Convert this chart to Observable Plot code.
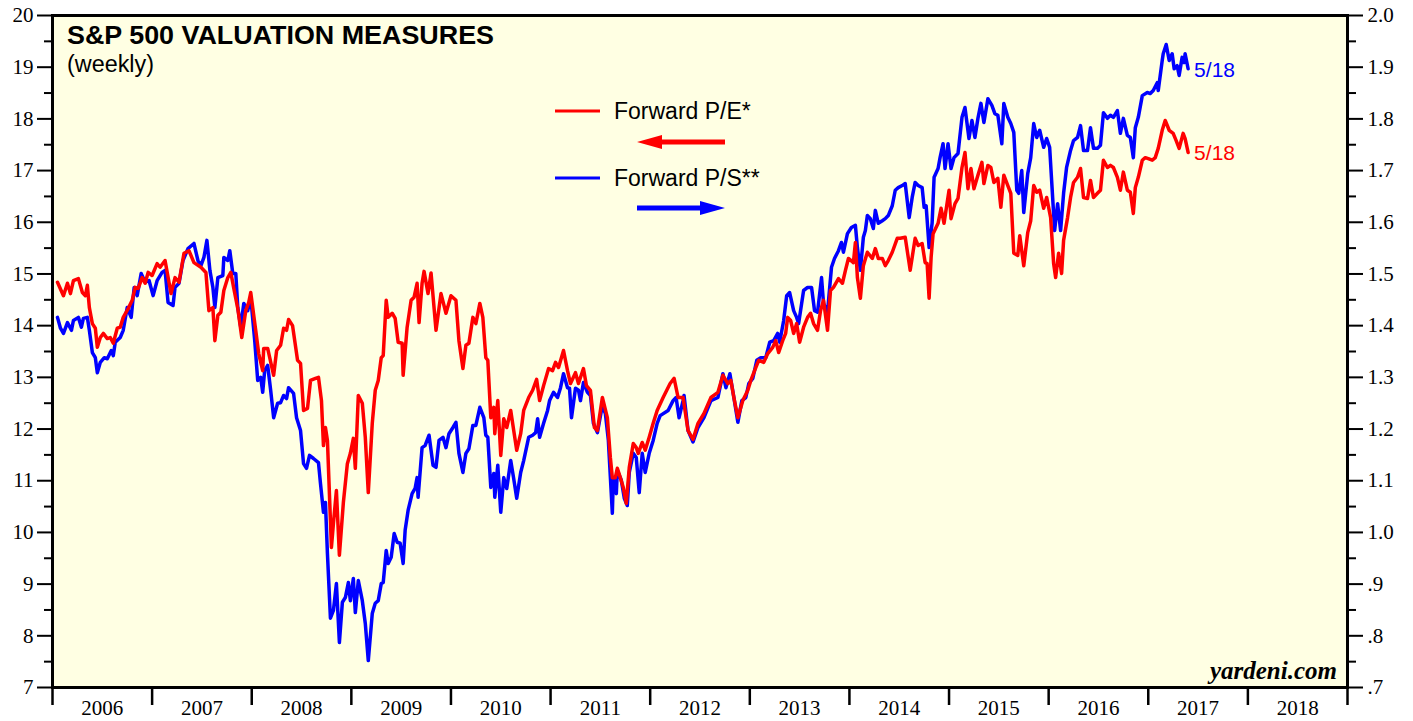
<!DOCTYPE html>
<html>
<head>
<meta charset="utf-8">
<script src="https://cdn.jsdelivr.net/npm/d3@7"></script>
<script src="https://cdn.jsdelivr.net/npm/@observablehq/plot@0.6"></script>
<style>
  html, body { margin: 0; padding: 0; background: #ffffff; }
  #chart svg { display: block; }
</style>
</head>
<body>
<div id="chart"></div>
<script>
// ---- DATA ----
// Forward P/E (left axis), weekly samples, decimal years
const peYears = [
  2006.05,2006.11,2006.15,2006.18,2006.21,2006.26,2006.30,2006.33,2006.35,2006.37,2006.40,2006.43,2006.45,2006.48,2006.51,2006.55,2006.58,2006.61,2006.65,2006.68,2006.71,2006.76,2006.80,2006.83,2006.86,2006.90,2006.93,2006.96,
  2007.00,2007.05,2007.08,2007.13,2007.19,2007.23,2007.27,2007.32,2007.37,2007.42,2007.49,2007.54,2007.57,2007.61,2007.63,2007.66,2007.69,2007.72,2007.76,2007.79,2007.82,2007.86,2007.90,2007.94,2007.97,2007.99,
  2008.04,2008.07,2008.11,2008.12,2008.16,2008.22,2008.25,2008.29,2008.32,2008.35,2008.37,2008.41,2008.46,2008.49,2008.52,2008.56,2008.59,2008.64,2008.67,2008.70,2008.72,2008.74,2008.76,2008.80,2008.82,2008.85,2008.88,2008.92,2008.96,2008.99,
  2009.02,2009.04,2009.07,2009.11,2009.14,2009.17,2009.21,2009.24,2009.27,2009.30,2009.32,2009.35,2009.37,2009.41,2009.44,2009.47,2009.51,2009.52,2009.56,2009.60,2009.63,2009.66,2009.68,2009.71,2009.73,2009.77,2009.80,2009.85,2009.90,2009.95,
  2010.00,2010.05,2010.08,2010.12,2010.15,2010.18,2010.22,2010.25,2010.29,2010.32,2010.35,2010.37,2010.40,2010.43,2010.44,2010.47,2010.50,2010.53,2010.56,2010.60,2010.63,2010.66,2010.70,2010.73,2010.78,2010.82,2010.86,2010.89,2010.93,2010.98,
  2011.02,2011.05,2011.08,2011.13,2011.17,2011.20,2011.25,2011.28,2011.33,2011.36,2011.40,2011.44,2011.47,2011.52,2011.57,2011.60,2011.62,2011.65,2011.67,2011.70,2011.73,2011.76,2011.79,2011.83,2011.86,2011.88,2011.92,2011.95,2011.99,
  2012.03,2012.07,2012.13,2012.20,2012.24,2012.28,2012.33,2012.38,2012.43,2012.48,2012.54,2012.61,2012.68,2012.73,2012.78,2012.81,2012.84,2012.88,2012.93,2012.98,
  2013.01,2013.06,2013.09,2013.14,2013.18,2013.23,2013.26,2013.29,2013.33,2013.36,2013.38,2013.41,2013.44,2013.47,2013.50,2013.54,2013.58,2013.61,2013.64,2013.68,2013.71,2013.74,2013.78,2013.81,2013.84,2013.89,2013.93,2013.96,2013.99,
  2014.04,2014.06,2014.08,2014.11,2014.14,2014.18,2014.23,2014.26,2014.29,2014.33,2014.36,2014.39,2014.43,2014.48,2014.51,2014.56,2014.61,2014.63,2014.66,2014.69,2014.73,2014.76,2014.78,2014.80,2014.82,2014.84,2014.89,2014.92,2014.95,
  2015.00,2015.02,2015.06,2015.09,2015.13,2015.16,2015.19,2015.22,2015.25,2015.29,2015.33,2015.35,2015.39,2015.42,2015.45,2015.49,2015.52,2015.55,2015.59,2015.62,2015.65,2015.69,2015.71,2015.75,2015.79,2015.82,2015.85,2015.88,2015.91,2015.95,2015.98,
  2016.02,2016.05,2016.07,2016.10,2016.13,2016.15,2016.19,2016.22,2016.25,2016.29,2016.32,2016.35,2016.39,2016.42,2016.45,2016.49,2016.52,2016.55,2016.59,2016.62,2016.65,2016.69,2016.72,2016.75,2016.79,2016.82,2016.85,2016.87,2016.90,2016.94,2016.97,
  2017.00,2017.04,2017.07,2017.10,2017.14,2017.17,2017.21,2017.25,2017.28,2017.31,2017.35,2017.37,2017.40
];
const peValues = [
  14.84,14.58,14.82,14.62,14.87,14.91,14.64,14.58,14.78,14.35,14.04,13.95,13.58,13.77,13.85,13.75,13.77,13.66,13.95,13.97,14.16,14.33,14.49,14.74,14.72,14.93,14.82,15.03,
  14.97,15.20,15.13,15.26,14.62,14.93,14.84,15.40,15.45,15.22,15.13,15.03,14.29,14.35,13.71,14.20,14.26,14.68,14.93,15.03,14.72,14.33,13.77,14.29,14.45,14.64,
  13.91,13.46,13.13,13.56,13.56,13.04,13.52,13.62,13.95,13.91,14.12,14.00,13.33,13.27,12.36,12.40,12.94,12.98,13.00,12.55,11.68,12.03,11.78,9.71,10.17,10.81,9.56,10.58,11.33,11.53,
  11.82,11.24,12.65,12.50,11.84,10.77,12.11,12.75,12.94,13.38,13.42,14.49,14.16,14.24,14.14,13.68,13.66,13.04,13.97,14.49,14.55,14.82,14.06,14.82,15.05,14.62,15.02,13.91,14.62,14.24,
  14.58,14.49,13.71,13.17,13.62,13.66,14.16,14.04,14.43,14.16,13.38,13.33,12.22,12.42,11.91,12.55,11.49,12.20,12.03,12.36,11.97,11.59,11.91,12.36,12.61,12.75,12.96,12.55,12.84,13.17,
  13.13,13.29,13.19,13.52,13.13,12.88,13.09,12.88,13.17,12.84,12.75,12.03,11.97,12.61,12.22,11.45,11.06,11.06,11.24,11.06,10.87,10.56,11.26,11.72,11.64,11.53,11.74,11.59,11.84,
  12.11,12.36,12.61,12.88,12.98,12.61,12.61,11.97,11.80,12.11,12.30,12.61,12.71,13.04,12.88,12.94,12.61,12.22,12.55,12.75,
  12.94,13.19,13.33,13.29,13.46,13.58,13.71,13.48,13.71,13.85,14.16,14.10,13.85,14.04,13.68,13.97,14.16,14.24,14.04,13.91,14.29,14.49,13.91,14.68,14.74,14.91,14.82,15.07,15.30,
  15.22,15.61,14.93,14.53,15.16,15.42,15.30,15.49,15.30,15.30,15.16,15.26,15.42,15.69,15.69,15.71,15.07,15.32,15.69,15.55,15.59,15.22,15.20,14.53,15.32,15.78,15.98,16.27,15.98,
  16.62,16.07,16.36,16.46,17.06,17.35,16.65,17.04,16.65,16.91,17.16,16.75,17.10,17.06,16.77,16.85,16.29,16.91,16.71,16.56,15.40,15.36,15.74,15.16,15.80,16.03,16.71,16.58,16.62,16.27,16.48,
  16.09,15.20,14.93,15.40,15.01,15.65,16.09,16.48,16.77,16.87,17.04,16.48,16.46,16.81,16.48,16.56,16.62,17.20,17.06,17.10,17.06,16.87,16.62,16.97,16.62,16.58,16.17,16.67,16.87,17.20,17.25,
  17.23,17.20,17.25,17.43,17.78,17.97,17.78,17.72,17.58,17.43,17.72,17.62,17.35
];

// Forward P/S (right axis), weekly samples, decimal years
const psYears = [
  2006.05,2006.08,2006.11,2006.15,2006.19,2006.21,2006.26,2006.29,2006.31,2006.35,2006.37,2006.40,2006.43,2006.45,2006.48,2006.52,2006.55,2006.59,2006.61,2006.63,2006.68,2006.71,2006.75,2006.79,2006.82,2006.85,2006.89,2006.93,2006.97,
  2007.01,2007.05,2007.10,2007.13,2007.16,2007.21,2007.23,2007.27,2007.31,2007.36,2007.42,2007.46,2007.49,2007.52,2007.55,2007.58,2007.61,2007.63,2007.66,2007.71,2007.72,2007.76,2007.78,2007.81,2007.84,2007.86,2007.89,2007.92,2007.96,2007.99,
  2008.03,2008.06,2008.09,2008.11,2008.13,2008.16,2008.19,2008.22,2008.26,2008.29,2008.32,2008.35,2008.37,2008.42,2008.45,2008.49,2008.52,2008.55,2008.58,2008.62,2008.67,2008.69,2008.72,2008.74,2008.76,2008.79,2008.82,2008.85,2008.88,2008.91,2008.94,2008.97,2008.99,
  2009.02,2009.04,2009.07,2009.11,2009.14,2009.17,2009.21,2009.24,2009.27,2009.30,2009.32,2009.35,2009.37,2009.40,2009.43,2009.46,2009.49,2009.52,2009.54,2009.57,2009.61,2009.64,2009.66,2009.67,2009.71,2009.74,2009.78,2009.82,2009.85,2009.88,2009.92,2009.95,2009.98,
  2010.02,2010.05,2010.08,2010.12,2010.15,2010.18,2010.22,2010.25,2010.29,2010.33,2010.35,2010.37,2010.40,2010.43,2010.44,2010.47,2010.50,2010.53,2010.56,2010.60,2010.63,2010.66,2010.70,2010.73,2010.78,2010.82,2010.85,2010.87,2010.89,2010.93,2010.97,2010.99,
  2011.03,2011.07,2011.10,2011.13,2011.17,2011.19,2011.21,2011.25,2011.28,2011.30,2011.33,2011.37,2011.40,2011.43,2011.47,2011.52,2011.55,2011.58,2011.62,2011.63,2011.66,2011.67,2011.71,2011.74,2011.77,2011.79,2011.83,2011.86,2011.89,2011.92,2011.95,2011.99,
  2012.03,2012.07,2012.10,2012.18,2012.23,2012.26,2012.29,2012.33,2012.34,2012.38,2012.43,2012.48,2012.54,2012.61,2012.68,2012.73,2012.76,2012.80,2012.84,2012.88,2012.92,2012.96,2012.99,
  2013.03,2013.07,2013.11,2013.16,2013.20,2013.24,2013.28,2013.30,2013.34,2013.37,2013.40,2013.44,2013.47,2013.49,2013.54,2013.58,2013.62,2013.65,2013.68,2013.72,2013.74,2013.78,2013.82,2013.85,2013.89,2013.92,2013.94,2013.98,
  2014.02,2014.06,2014.08,2014.11,2014.14,2014.16,2014.18,2014.21,2014.24,2014.26,2014.29,2014.33,2014.36,2014.39,2014.43,2014.46,2014.49,2014.53,2014.56,2014.60,2014.63,2014.66,2014.69,2014.73,2014.75,2014.77,2014.80,2014.83,2014.85,2014.89,2014.91,2014.94,2014.96,2014.99,
  2015.02,2015.05,2015.09,2015.13,2015.16,2015.20,2015.23,2015.26,2015.29,2015.32,2015.35,2015.39,2015.43,2015.46,2015.49,2015.53,2015.55,2015.59,2015.62,2015.65,2015.68,2015.70,2015.73,2015.75,2015.79,2015.82,2015.85,2015.88,2015.91,2015.95,2015.98,
  2016.01,2016.04,2016.06,2016.09,2016.12,2016.15,2016.18,2016.22,2016.25,2016.29,2016.32,2016.35,2016.39,2016.42,2016.45,2016.49,2016.52,2016.55,2016.59,2016.62,2016.65,2016.69,2016.72,2016.75,2016.79,2016.82,2016.85,2016.87,2016.90,2016.94,2016.99,
  2017.02,2017.05,2017.09,2017.10,2017.14,2017.15,2017.18,2017.21,2017.24,2017.26,2017.29,2017.31,2017.34,2017.36,2017.37,2017.40
];
const psValues = [
  1.416,1.395,1.385,1.406,1.391,1.410,1.416,1.397,1.414,1.416,1.391,1.348,1.338,1.309,1.329,1.338,1.336,1.352,1.342,1.368,1.377,1.391,1.435,1.416,1.474,1.458,1.501,1.484,1.487,
  1.458,1.487,1.503,1.507,1.445,1.439,1.474,1.482,1.526,1.549,1.559,1.526,1.516,1.532,1.565,1.507,1.474,1.435,1.493,1.497,1.532,1.526,1.545,1.501,1.501,1.435,1.397,1.443,1.429,1.455,
  1.371,1.294,1.300,1.271,1.313,1.323,1.275,1.222,1.250,1.251,1.265,1.259,1.280,1.269,1.222,1.197,1.133,1.124,1.149,1.143,1.135,1.095,1.039,1.058,0.959,0.834,0.849,0.901,0.787,0.865,0.874,0.903,0.868,
  0.911,0.845,0.907,0.868,0.824,0.752,0.843,0.863,0.868,0.901,0.903,0.965,0.940,0.952,0.998,0.981,0.979,0.940,1.004,1.043,1.075,1.085,1.106,1.068,1.164,1.168,1.188,1.130,1.126,1.178,1.184,1.164,1.191,
  1.203,1.213,1.153,1.116,1.153,1.162,1.207,1.207,1.242,1.222,1.188,1.184,1.087,1.114,1.068,1.130,1.039,1.106,1.085,1.139,1.104,1.066,1.116,1.139,1.184,1.188,1.193,1.220,1.184,1.211,1.236,1.255,
  1.271,1.261,1.280,1.307,1.280,1.279,1.222,1.279,1.275,1.255,1.290,1.271,1.265,1.211,1.193,1.246,1.230,1.178,1.037,1.106,1.075,1.120,1.101,1.066,1.052,1.116,1.153,1.145,1.077,1.153,1.116,1.153,
  1.178,1.211,1.226,1.236,1.255,1.261,1.222,1.255,1.265,1.197,1.175,1.203,1.222,1.255,1.261,1.307,1.280,1.307,1.261,1.213,1.255,1.261,1.288,
  1.298,1.333,1.338,1.338,1.368,1.371,1.385,1.368,1.410,1.458,1.464,1.429,1.416,1.404,1.468,1.474,1.474,1.429,1.426,1.493,1.443,1.426,1.513,1.530,1.545,1.561,1.542,1.578,
  1.590,1.594,1.551,1.507,1.571,1.584,1.613,1.607,1.588,1.623,1.598,1.603,1.607,1.613,1.632,1.662,1.667,1.671,1.675,1.609,1.648,1.677,1.671,1.667,1.629,1.632,1.551,1.598,1.687,1.704,1.725,1.752,1.704,1.752,
  1.704,1.725,1.733,1.803,1.822,1.762,1.797,1.764,1.801,1.830,1.793,1.839,1.826,1.810,1.807,1.752,1.830,1.803,1.791,1.774,1.662,1.656,1.700,1.619,1.694,1.725,1.791,1.764,1.778,1.745,1.762,
  1.745,1.648,1.584,1.636,1.584,1.656,1.706,1.739,1.758,1.764,1.787,1.739,1.739,1.783,1.743,1.743,1.749,1.812,1.801,1.807,1.803,1.816,1.772,1.801,1.768,1.764,1.725,1.783,1.803,1.845,1.851,
  1.849,1.855,1.870,1.855,1.913,1.926,1.944,1.913,1.926,1.897,1.903,1.884,1.919,1.909,1.926,1.897
];

const leftTicks = d3.range(7, 21);            // 7 .. 20
const leftMinor = d3.range(7.5, 20, 1);       // half steps
const yearTicks = d3.range(2006, 2020);       // year boundaries
const yearLabels = d3.range(2006, 2019);      // 2006 .. 2018
const lastLabel = "5/18";
const titleText = "S&P 500 VALUATION MEASURES";
const subtitleText = "(weekly)";
const seriesNames = ["Forward P/E*", "Forward P/S**"];
const sourceText = "yardeni.com";

// ---- build ----
const pe = peYears.map((y, i) => ({year: y, value: peValues[i]}));
const ps = psYears.map((y, i) => ({year: y, value: psValues[i] * 10})); // right axis = left / 10

const RED = "#ff0000", BLUE = "#0000ff", BG = "#ffffe3";
const serif = "'Liberation Serif', 'Times New Roman', serif";
const sans = "'Liberation Sans', Arial, sans-serif";

const rightFmt = d => d >= 10 ? (d / 10).toFixed(1) : "." + d;

const chart = Plot.plot({
  width: 1413,
  height: 721,
  marginLeft: 52,
  marginRight: 66,
  marginTop: 15,
  marginBottom: 34,
  style: {background: "#ffffff", fontFamily: serif, fontSize: "21px", color: "#000"},
  x: {type: "linear", domain: [2006, 2019]},
  y: {type: "linear", domain: [7, 20]},
  marks: [
    Plot.frame({fill: BG}),
    Plot.line(ps, {x: "year", y: "value", stroke: BLUE, strokeWidth: 3.5, strokeLinejoin: "round"}),
    Plot.line(pe, {x: "year", y: "value", stroke: RED, strokeWidth: 3.5, strokeLinejoin: "round"}),
    Plot.text([ps[ps.length - 1]], {x: "year", y: "value", text: () => lastLabel, dx: 6, dy: 2, textAnchor: "start", fill: BLUE, fontFamily: sans, fontSize: 21}),
    Plot.text([pe[pe.length - 1]], {x: "year", y: "value", text: () => lastLabel, dx: 6, dy: 1, textAnchor: "start", fill: RED, fontFamily: sans, fontSize: 21}),
    // left axis
    Plot.axisY({ticks: leftTicks, anchor: "left", tickSize: 15, tickPadding: 4, strokeWidth: 2, label: null, tickFormat: d => String(d), fontSize: 21, fontFamily: serif}),
    Plot.axisY({ticks: leftMinor, anchor: "left", tickSize: 8, strokeWidth: 2, label: null, tickFormat: () => ""}),
    // right axis
    Plot.axisY({ticks: leftTicks, anchor: "right", tickSize: 15, tickPadding: 5, strokeWidth: 2, label: null, tickFormat: rightFmt, fontSize: 21, fontFamily: serif}),
    Plot.axisY({ticks: leftMinor, anchor: "right", tickSize: 8, strokeWidth: 2, label: null, tickFormat: () => ""}),
    // bottom axis: boundary ticks + centered year labels
    Plot.axisX({ticks: yearTicks, anchor: "bottom", tickSize: 18, strokeWidth: 2.5, label: null, tickFormat: () => ""}),
    Plot.axisX({ticks: yearLabels.map(y => y + 0.5), anchor: "bottom", tickSize: 0, tickPadding: 13, label: null, tickFormat: d => String(Math.floor(d)), fontSize: 21, fontFamily: serif}),
    Plot.frame({stroke: "#000", strokeWidth: 3})
  ]
});

document.getElementById("chart").appendChild(chart);

// ---- annotations (title, legend, source) ----
const svg = d3.select(chart);
const g = svg.append("g").attr("text-anchor", "start");
g.append("text").attr("x", 67).attr("y", 44).attr("text-anchor", "start")
  .attr("font-family", sans).attr("font-weight", "bold").attr("font-size", 25).attr("fill", "#000")
  .attr("textLength", 427).attr("lengthAdjust", "spacingAndGlyphs")
  .text(titleText);
g.append("text").attr("x", 67).attr("y", 72).attr("text-anchor", "start")
  .attr("font-family", sans).attr("font-size", 23).attr("fill", "#000")
  .attr("textLength", 87).attr("lengthAdjust", "spacingAndGlyphs")
  .text(subtitleText);

const legend = [
  {name: seriesNames[0], color: RED, ly: 111, ay: 142, dir: -1},
  {name: seriesNames[1], color: BLUE, ly: 178, ay: 208, dir: 1}
];
legend.forEach(d => {
  g.append("line").attr("x1", 555).attr("x2", 600).attr("y1", d.ly).attr("y2", d.ly)
    .attr("stroke", d.color).attr("stroke-width", 3);
  g.append("text").attr("x", 614).attr("y", d.ly + 8).attr("text-anchor", "start")
    .attr("font-family", sans).attr("font-size", 23).attr("fill", "#000").text(d.name);
  if (d.dir < 0) {
    g.append("line").attr("x1", 655).attr("x2", 725).attr("y1", d.ay).attr("y2", d.ay)
      .attr("stroke", d.color).attr("stroke-width", 5);
    g.append("path").attr("d", `M637,${d.ay} L662,${d.ay - 7} L662,${d.ay + 7} Z`).attr("fill", d.color);
  } else {
    g.append("line").attr("x1", 637).attr("x2", 707).attr("y1", d.ay).attr("y2", d.ay)
      .attr("stroke", d.color).attr("stroke-width", 5);
    g.append("path").attr("d", `M725,${d.ay} L700,${d.ay - 7} L700,${d.ay + 7} Z`).attr("fill", d.color);
  }
});

g.append("text").attr("x", 1337).attr("y", 679).attr("text-anchor", "end")
  .attr("font-family", serif).attr("font-weight", "bold").attr("font-style", "italic")
  .attr("font-size", 25).attr("fill", "#000").text(sourceText);
</script>
</body>
</html>
